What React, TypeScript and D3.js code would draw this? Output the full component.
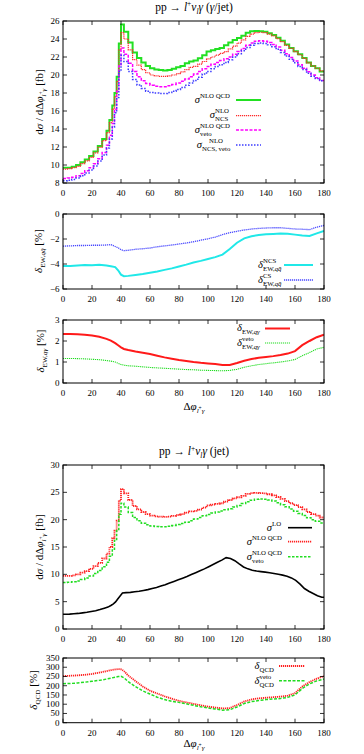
import React from 'react';
import * as d3 from 'd3';

const FONT = '"Liberation Serif", "DejaVu Serif", serif';
const W = 364;
const H = 754;
const X0 = 63;
const X1 = 324;

const X_TICKS = [0, 20, 40, 60, 80, 100, 120, 140, 160, 180];

// histogram bin edges in degrees
const BIN_EDGES = [0, 3, 6, 9, 12, 15, 18, 21, 24, 27, 30, 32, 34, 35.5, 37, 38.5, 40, 42,
  45, 48, 51, 54, 57, 60, 63, 66, 69, 72, 75, 78, 81, 84, 87, 90, 93, 96, 99, 102,
  105, 108, 111, 114, 117, 120, 123, 126, 129, 132, 135, 138, 141, 144, 147, 150, 153, 156, 159, 162,
  165, 168, 171, 174, 177, 180];

const SIG_NLO_QCD = [9.7, 9.7, 9.8, 10.0, 10.3, 10.6, 11.0, 11.5, 12.1, 12.9,
  13.8, 15.0, 16.6, 18.0, 19.8, 23.5, 25.6,
  24.8, 23.6, 22.5, 21.9, 21.4, 21.0, 20.75, 20.6, 20.55, 20.5,
  20.55, 20.7, 20.85, 21.0, 21.3, 21.5, 21.6, 21.85, 22.2, 22.6,
  22.75, 22.9, 23.0, 23.3, 23.6, 23.9, 24.1, 24.35, 24.7, 24.85,
  24.9, 24.85, 24.8, 24.65, 24.45, 24.15, 23.8, 23.4, 23.0, 22.65,
  22.3, 21.9, 21.4, 21.0, 20.75, 20.4];

const SIG_NLO_NCS = [9.55, 9.6, 9.7, 9.85, 10.15, 10.45, 10.85, 11.35, 11.95, 12.7,
  13.6, 14.7, 16.2, 17.6, 19.3, 22.8, 24.7,
  24.0, 22.8, 21.7, 21.1, 20.6, 20.25, 20.0, 19.9, 19.85, 19.85,
  19.9, 20.0, 20.15, 20.35, 20.6, 20.85, 20.95, 21.2, 21.5, 21.8,
  22.0, 22.2, 22.4, 22.6, 22.9, 23.2, 23.55, 23.9, 24.3, 24.55,
  24.7, 24.75, 24.7, 24.55, 24.35, 24.05, 23.7, 23.3, 22.95, 22.6,
  22.25, 21.85, 21.35, 21.0, 20.75, 20.45];

const SIG_NLO_VETO = [8.5, 8.55, 8.65, 8.8, 9.05, 9.35, 9.7, 10.15, 10.7, 11.4,
  12.2, 13.3, 14.6, 16.2, 18.2, 21.0, 23.0,
  22.3, 21.3, 20.4, 19.8, 19.35, 19.05, 18.85, 18.75, 18.7, 18.7,
  18.8, 18.95, 19.1, 19.3, 19.55, 19.8, 20.1, 20.4, 20.7, 20.95,
  21.2, 21.4, 21.6, 21.8, 22.0, 22.3, 22.6, 22.95, 23.3, 23.55,
  23.75, 23.8, 23.75, 23.6, 23.4, 23.1, 22.75, 22.35, 21.95, 21.55,
  21.15, 20.75, 20.35, 20.0, 19.7, 19.4];

const SIG_NLO_NCS_VETO = [8.25, 8.3, 8.4, 8.55, 8.8, 9.1, 9.45, 9.9, 10.45, 11.1,
  11.9, 12.9, 14.2, 15.8, 17.5, 20.4, 22.2,
  21.5, 20.4, 19.5, 18.9, 18.5, 18.2, 18.05, 18.0, 17.95, 17.95,
  18.05, 18.2, 18.4, 18.6, 18.85, 19.1, 19.4, 19.75, 20.1, 20.4,
  20.7, 20.95, 21.15, 21.4, 21.7, 22.0, 22.35, 22.7, 23.05, 23.3,
  23.5, 23.55, 23.5, 23.35, 23.15, 22.85, 22.5, 22.1, 21.75, 21.35,
  20.95, 20.6, 20.2, 19.85, 19.6, 19.35];

const SIG_LO = [2.7, 2.72, 2.78, 2.85, 2.95, 3.05, 3.2, 3.35, 3.55, 3.8,
  4.0, 4.3, 4.6, 4.95, 5.5, 6.0, 6.6,
  6.65, 6.7, 6.8, 6.9, 7.05, 7.2, 7.4, 7.6, 7.85, 8.1,
  8.4, 8.7, 9.0, 9.3, 9.6, 9.95, 10.3, 10.65, 11.0, 11.4,
  11.8, 12.2, 12.6, 13.05, 12.9, 12.5, 11.9, 11.35, 11.0, 10.75,
  10.6, 10.5, 10.4, 10.3, 10.15, 10.0, 9.85, 9.65, 9.35, 8.9,
  8.2, 7.4, 6.9, 6.5, 6.1, 5.8];

// finely binned relative corrections, sampled in degrees
const SMOOTH_X = [0, 5, 10, 15, 20, 25, 30, 33, 36, 38, 40, 42, 45, 50, 55, 60, 65, 70, 75, 80,
  85, 90, 95, 100, 105, 110, 115, 120, 125, 130, 135, 140, 145, 150, 155, 160, 165, 170, 175, 180];

const DEW_QQ_NCS = [-4.15, -4.15, -4.12, -4.08, -4.1, -4.07, -4.12, -4.18, -4.25, -4.5, -4.85, -4.97,
  -4.95, -4.88, -4.8, -4.7, -4.6, -4.47, -4.35, -4.2, -4.05, -3.88, -3.75, -3.6, -3.45, -3.25,
  -2.8, -2.3, -1.95, -1.78, -1.68, -1.62, -1.6, -1.57, -1.58, -1.65, -1.72, -1.75, -1.55, -1.35];

const DEW_QQ_CS = [-2.57, -2.55, -2.52, -2.52, -2.5, -2.5, -2.48, -2.45, -2.6, -2.7, -2.85, -2.93,
  -2.9, -2.82, -2.78, -2.72, -2.62, -2.55, -2.48, -2.4, -2.32, -2.22, -2.1, -1.98, -1.85, -1.65,
  -1.5, -1.38, -1.28, -1.2, -1.15, -1.12, -1.1, -1.1, -1.15, -1.2, -1.22, -1.25, -1.05, -0.92];

const DEW_QG = [2.33, 2.33, 2.32, 2.3, 2.26, 2.2, 2.1, 2.02, 1.9, 1.8, 1.7, 1.62,
  1.57, 1.5, 1.44, 1.38, 1.3, 1.22, 1.16, 1.1, 1.05, 1.0, 0.96, 0.93, 0.9, 0.86,
  0.86, 0.95, 1.06, 1.14, 1.2, 1.24, 1.28, 1.33, 1.4, 1.52, 1.8, 2.0, 2.18, 2.3];

const DEW_QG_VETO = [1.17, 1.17, 1.16, 1.15, 1.13, 1.11, 1.07, 1.04, 1.0, 0.94, 0.88, 0.85,
  0.82, 0.8, 0.77, 0.74, 0.72, 0.7, 0.68, 0.66, 0.64, 0.63, 0.61, 0.6, 0.59, 0.58,
  0.6, 0.65, 0.75, 0.82, 0.88, 0.92, 0.96, 1.0, 1.05, 1.12, 1.3, 1.45, 1.62, 1.7];

const DQCD = [252, 254, 256, 259, 264, 271, 279, 284, 288, 290, 289, 280,
  255, 225, 196, 173, 158, 143, 130, 118, 110, 102, 94, 87, 82, 77,
  79, 96, 115, 126, 132, 135, 138, 141, 146, 160, 196, 220, 238, 252];

const DQCD_VETO = [211, 212, 215, 219, 224, 229, 236, 241, 246, 250, 251, 243,
  222, 195, 172, 155, 138, 125, 116, 110, 102, 94, 86, 80, 74, 68,
  70, 85, 104, 114, 120, 125, 128, 131, 137, 150, 185, 210, 226, 236];

const Y_TICKS_1 = [8, 10, 12, 14, 16, 18, 20, 22, 24, 26];
const Y_TICKS_2 = [-6, -4, -2, 0];
const Y_TICKS_3 = [0, 1, 2, 3];
const Y_TICKS_4 = [0, 5, 10, 15, 20, 25, 30];
const Y_TICKS_5 = [0, 50, 100, 150, 200, 250, 300, 350];

type Part = { t: string; it?: boolean; s?: 'sup' | 'sub' | 'subsup' };

function Rich({ x, y, parts, size, anchor = 'start', rotate = false }: {
  x: number; y: number; parts: Part[]; size: number; anchor?: string; rotate?: boolean;
}) {
  let shift = 0;
  const spans = parts.map((p, i) => {
    const target = p.s === 'sup' ? -size * 0.38 : p.s === 'sub' ? size * 0.28 : p.s === 'subsup' ? size * 0.02 : 0;
    const dy = target - shift;
    shift = target;
    const fs = p.s === 'subsup' ? size * 0.5 : p.s ? size * 0.65 : size;
    return (
      <tspan key={i} dy={dy} fontStyle={p.it ? 'italic' : 'normal'} fontSize={fs}>{p.t}</tspan>
    );
  });
  return (
    <text x={x} y={y} fontSize={size} textAnchor={anchor} fontFamily={FONT}
      transform={rotate ? `rotate(-90 ${x} ${y})` : undefined} fill="#000">{spans}</text>
  );
}

type Series = { x: number[]; y: number[]; step?: boolean; mid?: boolean; color: string; width: number; dash?: string };

function pointsOf(s: Series): [number, number][] {
  const pts: [number, number][] = [];
  if (s.step) {
    s.y.forEach((v, i) => { pts.push([s.x[i], v]); pts.push([s.x[i + 1], v]); });
  } else if (s.mid) {
    pts.push([s.x[0], s.y[0]]);
    s.y.forEach((v, i) => pts.push([(s.x[i] + s.x[i + 1]) / 2, v]));
    pts.push([s.x[s.x.length - 1], s.y[s.y.length - 1]]);
  } else {
    s.x.forEach((v, i) => pts.push([v, s.y[i]]));
  }
  return pts;
}

function Panel({ id, top, bottom, domain, yTicks, series, fmt }: {
  id: string; top: number; bottom: number; domain: [number, number]; yTicks: number[]; series: Series[];
  fmt?: (v: number) => string;
}) {
  const x = d3.scaleLinear().domain([0, 180]).range([X0, X1]);
  const y = d3.scaleLinear().domain(domain).range([bottom, top]);
  const line = d3.line<[number, number]>().x(d => x(d[0])).y(d => y(d[1]));
  const f = fmt || ((v: number) => (v < 0 ? '\u2212' + Math.abs(v) : String(v)));
  const tl = 4;
  return (
    <g>
      <defs>
        <clipPath id={id}>
          <rect x={X0} y={top} width={X1 - X0} height={bottom - top} />
        </clipPath>
      </defs>
      <g clipPath={`url(#${id})`}>
        {series.map((s, i) => (
          <path key={i} d={line(pointsOf(s)) || ''} fill="none" stroke={s.color}
            strokeWidth={s.width} strokeDasharray={s.dash} />
        ))}
      </g>
      {yTicks.map(t => (
        <g key={'y' + t}>
          <line x1={X0} x2={X0 + tl} y1={y(t)} y2={y(t)} stroke="#000" strokeWidth={0.8} />
          <line x1={X1 - tl} x2={X1} y1={y(t)} y2={y(t)} stroke="#000" strokeWidth={0.8} />
          <text x={59.5} y={y(t) + 3} textAnchor="end" fontSize={9} fontFamily={FONT}>{f(t)}</text>
        </g>
      ))}
      {X_TICKS.map(t => (
        <g key={'x' + t}>
          <line x1={x(t)} x2={x(t)} y1={bottom} y2={bottom - tl} stroke="#000" strokeWidth={0.8} />
          <line x1={x(t)} x2={x(t)} y1={top} y2={top + tl} stroke="#000" strokeWidth={0.8} />
          <text x={x(t)} y={bottom + 13} textAnchor="middle" fontSize={9} fontFamily={FONT}>{t}</text>
        </g>
      ))}
      <rect x={X0} y={top} width={X1 - X0} height={bottom - top} fill="none" stroke="#000" strokeWidth={1} />
    </g>
  );
}

function Stack({ x, y, main, sup, sub, supDx = 0 }: {
  x: number; y: number; main: string; sup?: React.ReactNode; sub?: React.ReactNode; supDx?: number;
}) {
  return (
    <g fontFamily={FONT}>
      <text x={x} y={y} textAnchor="end" fontStyle="italic" fontSize={10.5}>{main}</text>
      {sup ? <text x={x + supDx} y={y - 5} fontSize={6.8}>{sup}</text> : null}
      {sub ? <text x={x} y={y + 2.5} fontSize={6.8}>{sub}</text> : null}
    </g>
  );
}

function Sample({ x1, x2, y, s }: { x1: number; x2: number; y: number; s: Series }) {
  return <line x1={x1} x2={x2} y1={y} y2={y} stroke={s.color} strokeWidth={s.width} strokeDasharray={s.dash} />;
}

const QQ = (<><tspan>EW,</tspan><tspan fontStyle="italic">{'qq\u0304'}</tspan></>);
const QG = (<><tspan>EW,</tspan><tspan fontStyle="italic">{'q\u03b3'}</tspan></>);

const phiLabel: Part[] = [
  { t: 'Δ' }, { t: 'φ', it: true }, { t: 'l', it: true, s: 'sub' }, { t: '+', s: 'subsup' }, { t: 'γ', it: true, s: 'sub' },
];
const dsigLabel: Part[] = [
  { t: 'd' }, { t: 'σ', it: true }, { t: ' / d' }, { t: 'Δ' }, { t: 'φ', it: true },
  { t: 'l', it: true, s: 'sub' }, { t: '+', s: 'subsup' }, { t: 'γ', it: true, s: 'sub' }, { t: ' [fb]' },
];

export default function App() {
  const p1: Series[] = [
    { x: BIN_EDGES, y: SIG_NLO_QCD, step: true, color: '#22e022', width: 2 },
    { x: BIN_EDGES, y: SIG_NLO_NCS, step: true, color: '#ff2a2a', width: 1.2, dash: '1.2,0.8' },
    { x: BIN_EDGES, y: SIG_NLO_VETO, step: true, color: '#ff00ff', width: 1.5, dash: '3,1.5' },
    { x: BIN_EDGES, y: SIG_NLO_NCS_VETO, step: true, color: '#3c3cff', width: 1.5, dash: '1.5,1.5' },
  ];
  const p2: Series[] = [
    { x: SMOOTH_X, y: DEW_QQ_NCS, color: '#20e8e8', width: 2 },
    { x: SMOOTH_X, y: DEW_QQ_CS, color: '#4848ff', width: 1.3, dash: '1.2,0.8' },
  ];
  const p3: Series[] = [
    { x: SMOOTH_X, y: DEW_QG, color: '#ff1a1a', width: 2 },
    { x: SMOOTH_X, y: DEW_QG_VETO, color: '#22dd22', width: 1.1, dash: '1.2,0.8' },
  ];
  const p4: Series[] = [
    { x: BIN_EDGES, y: SIG_LO, mid: true, color: '#000000', width: 1.6 },
    { x: BIN_EDGES, y: SIG_NLO_QCD, step: true, color: '#ff2020', width: 1.8, dash: '1.2,0.8' },
    { x: BIN_EDGES, y: SIG_NLO_VETO, step: true, color: '#22dd22', width: 1.5, dash: '2.5,1.5' },
  ];
  const p5: Series[] = [
    { x: SMOOTH_X, y: DQCD, color: '#ff2020', width: 1.8, dash: '1.2,0.8' },
    { x: SMOOTH_X, y: DQCD_VETO, color: '#22dd22', width: 1.5, dash: '3,1.5' },
  ];

  return (
    <svg width={W} height={H} viewBox={`0 0 ${W} ${H}`}
      style={{ position: 'absolute', left: 0, top: 0, background: '#fff', display: 'block' }}>
      <rect x={0} y={0} width={W} height={H} fill="#fff" />

      {/* Panel 1 */}
      <Rich x={194} y={10.5} size={11.5} anchor="middle" parts={[
        { t: 'pp → ' }, { t: 'l', it: true }, { t: '+', s: 'sup' }, { t: 'ν', it: true }, { t: 'l', it: true, s: 'sub' },
        { t: 'γ', it: true }, { t: ' (' }, { t: 'γ', it: true }, { t: '/jet)' },
      ]} />
      <Panel id="c1" top={21} bottom={183} domain={[8, 26]} yTicks={Y_TICKS_1} series={p1} />
      <Rich x={43} y={102} size={11} anchor="middle" rotate parts={dsigLabel} />
      <Stack x={200} y={103} main="σ" sup="NLO QCD" />
      <Sample x1={236} x2={261} y={100} s={p1[0]} />
      <Stack x={215} y={118} main="σ" sup="NLO" sub="NCS" />
      <Sample x1={236} x2={261} y={115.7} s={p1[1]} />
      <Stack x={200} y={133} main="σ" sup="NLO QCD" sub="veto" />
      <Sample x1={236} x2={261} y={130} s={p1[2]} />
      <Stack x={202} y={148} main="σ" sup="NLO" sub="NCS, veto" supDx={7} />
      <Sample x1={236} x2={261} y={145} s={p1[3]} />

      {/* Panel 2 */}
      <Panel id="c2" top={214} bottom={289} domain={[-6, 0]} yTicks={Y_TICKS_2} series={p2} />
      <Rich x={42} y={251} size={11} anchor="middle" rotate parts={[
        { t: 'δ', it: true }, { t: 'EW,', s: 'sub' }, { t: 'qq\u0304', it: true, s: 'sub' }, { t: ' [%]' },
      ]} />
      <Stack x={263} y={268} main="δ" sup="NCS" sub={QQ} />
      <Sample x1={284} x2={313} y={265} s={p2[0]} />
      <Stack x={263} y={283} main="δ" sup="CS" sub={QQ} />
      <Sample x1={284} x2={313} y={280} s={p2[1]} />

      {/* Panel 3 */}
      <Panel id="c3" top={320} bottom={383} domain={[0, 3]} yTicks={Y_TICKS_3} series={p3} />
      <Rich x={44} y={351} size={11} anchor="middle" rotate parts={[
        { t: 'δ', it: true }, { t: 'EW,', s: 'sub' }, { t: 'qγ', it: true, s: 'sub' }, { t: ' [%]' },
      ]} />
      <Stack x={242} y={331} main="δ" sub={QG} />
      <Sample x1={265} x2={290} y={328.5} s={p3[0]} />
      <Stack x={242} y={346} main="δ" sup="veto" sub={QG} />
      <Sample x1={265} x2={290} y={343} s={p3[1]} />
      <Rich x={194} y={410} size={11} anchor="middle" parts={phiLabel} />

      {/* Panel 4 */}
      <Rich x={194} y={455} size={11.5} anchor="middle" parts={[
        { t: 'pp → ' }, { t: 'l', it: true }, { t: '+', s: 'sup' }, { t: 'ν', it: true }, { t: 'l', it: true, s: 'sub' },
        { t: 'γ', it: true }, { t: ' (jet)' },
      ]} />
      <Panel id="c4" top={465} bottom={629} domain={[0, 30]} yTicks={Y_TICKS_4} series={p4} />
      <Rich x={43} y={547} size={11} anchor="middle" rotate parts={dsigLabel} />
      <Stack x={272} y={530.5} main="σ" sup="LO" />
      <Sample x1={288} x2={312} y={527.7} s={p4[0]} />
      <Stack x={252} y={545} main="σ" sup="NLO QCD" />
      <Sample x1={288} x2={312} y={541.7} s={p4[1]} />
      <Stack x={252} y={560} main="σ" sup="NLO QCD" sub="veto" />
      <Sample x1={288} x2={312} y={556.7} s={p4[2]} />

      {/* Panel 5 */}
      <Panel id="c5" top={658} bottom={722.7} domain={[0, 350]} yTicks={Y_TICKS_5} series={p5} />
      <Rich x={37} y={690} size={11} anchor="middle" rotate parts={[
        { t: 'δ', it: true }, { t: 'QCD', s: 'sub' }, { t: ' [%]' },
      ]} />
      <Stack x={259.5} y={669} main="δ" sub="QCD" />
      <Sample x1={279} x2={305} y={666} s={p5[0]} />
      <Stack x={259.5} y={684} main="δ" sup="veto" sub="QCD" />
      <Sample x1={279} x2={305} y={680.7} s={p5[1]} />
      <Rich x={194} y={747} size={11} anchor="middle" parts={phiLabel} />
    </svg>
  );
}
